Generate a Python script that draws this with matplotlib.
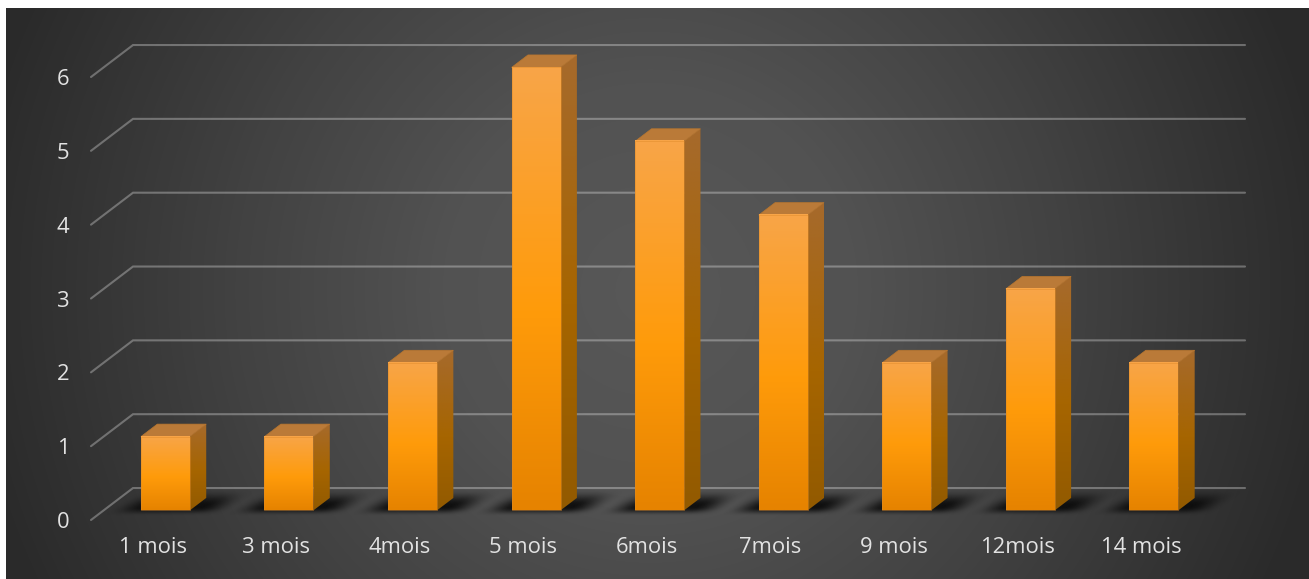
import numpy as np
import matplotlib
matplotlib.use("Agg")
import matplotlib.pyplot as plt
from matplotlib.colors import LinearSegmentedColormap
from matplotlib.patches import Polygon

categories = ["1 mois", "3 mois", "4mois", "5 mois", "6mois", "7mois", "9 mois", "12mois", "14 mois"]
values = [1, 1, 2, 6, 5, 4, 2, 3, 2]
yticks = [0, 1, 2, 3, 4, 5, 6]

W, H = 1309, 579
DX, DY = 0.34, 0.433       # full floor depth in data units
D0, D1 = 0.30, 0.69        # bar depth range
HW = 0.198

plt.rcParams["font.family"] = ["Open Sans", "DejaVu Sans"]
fig = plt.figure(figsize=(W / 100, H / 100), dpi=100, facecolor="white")

# backdrop: circular gradient
bg = fig.add_axes([6 / W, 0, (W - 6) / W, (H - 8) / H], zorder=0)
bg.axis("off")
gx, gy = np.meshgrid(np.arange(6, W), np.arange(8, H))
r = np.clip(np.hypot(gx - 650, gy - 290) / 690, 0, 1)
bg.imshow(r, cmap=LinearSegmentedColormap.from_list(
    "bg", [(0, "#585858"), (0.3, "#525252"), (0.6, "#424242"), (1, "#2a2a2a")]),
    vmin=0, vmax=1, aspect="auto", interpolation="bilinear")

ax = fig.add_axes([91 / W, (H - 520) / H, (1203 - 91) / W, (520 - 77) / H], zorder=1)
ax.patch.set_alpha(0)
for s in ax.spines.values():
    s.set_visible(False)

front = LinearSegmentedColormap.from_list("front", [(0, "#F8A548"), (0.55, "#FF9B0A"), (1, "#E68300")])
side = LinearSegmentedColormap.from_list("side", [(0, "#A66A2C"), (0.55, "#A66500"), (1, "#925A00")])
shadow = LinearSegmentedColormap.from_list("sh", [(0, "#0c0c0c00"), (1, "#0c0c0cf0")])


def smooth(t):
    t = np.clip(t, 0, 1)
    return t * t * (3 - 2 * t)


# gridlines with their left return on the side wall
for t in yticks:
    ax.plot([-0.5, -0.5 + DX, 8.5 + DX], [t, t + DY, t + DY], color="white", alpha=0.3,
            lw=1.5, clip_on=False, zorder=1, solid_capstyle="round", solid_joinstyle="miter")

bars = ax.bar(np.arange(len(values)) + D0 * DX, values, width=2 * HW, bottom=D0 * DY,
              color="none", edgecolor=(0.87, 0.54, 0.16, 0.55), linewidth=0.6, zorder=6, clip_on=False)

for i, (v, b) in enumerate(zip(values, bars)):
    x0 = b.get_x()
    x1 = x0 + b.get_width()
    y0 = b.get_y()
    y1 = y0 + b.get_height()
    ox, oy = (D1 - D0) * DX, (D1 - D0) * DY

    # soft floor shadow
    sx = np.linspace(x0 - 0.35, x1 + 0.5, 170)
    sy = np.linspace(0.04, 0.42, 60)
    xx, yy = np.meshgrid(sx, sy)
    vv = (yy - 0.095) / 0.31
    uu = np.abs(xx - (x0 + x1) / 2 - 0.0 - vv * 0.28)
    a = smooth((0.50 - uu) / 0.28) * smooth((yy - 0.05) / 0.12) * smooth((0.41 - yy) / 0.22)
    ax.imshow(a, extent=(sx[0], sx[-1], sy[0], sy[-1]), origin="lower", cmap=shadow,
              vmin=0, vmax=1, aspect="auto", zorder=2, clip_on=False, interpolation="bilinear")

    ramp = np.linspace(0, 1, 200)[:, None]
    # side face
    poly = Polygon([(x1, y0), (x1 + ox, y0 + oy), (x1 + ox, y1 + oy), (x1, y1)],
                   closed=True, fc="none", ec="none", transform=ax.transData, clip_on=False)
    ax.add_patch(poly)
    im = ax.imshow(ramp, extent=(x1, x1 + ox, y0, y1 + oy), origin="upper", cmap=side,
                   aspect="auto", zorder=4, interpolation="bilinear")
    im.set_clip_path(poly)
    im.set_clip_box(fig.bbox)
    # top face
    ax.add_patch(Polygon([(x0, y1), (x0 + ox, y1 + oy), (x1 + ox, y1 + oy), (x1, y1)],
                         closed=True, fc="#BA7A38", ec="#B8762E", lw=0.5, zorder=5, clip_on=False))
    # front face
    ax.imshow(ramp, extent=(x0, x1, y0, y1), origin="upper", cmap=front,
              aspect="auto", zorder=5, interpolation="bilinear", clip_on=False)

ax.set_xlim(-0.5, 8.5)
ax.set_ylim(0, 6)
ax.set_xticks(np.arange(len(categories)))
ax.set_xticklabels(categories)
ax.set_yticks(yticks)
ax.tick_params(axis="both", length=0, colors="#E2E2E2", labelsize=15.8)
ax.tick_params(axis="x", pad=12.5)
ax.tick_params(axis="y", pad=15.5)

fig.savefig("out.png", dpi=100, facecolor=fig.get_facecolor())
